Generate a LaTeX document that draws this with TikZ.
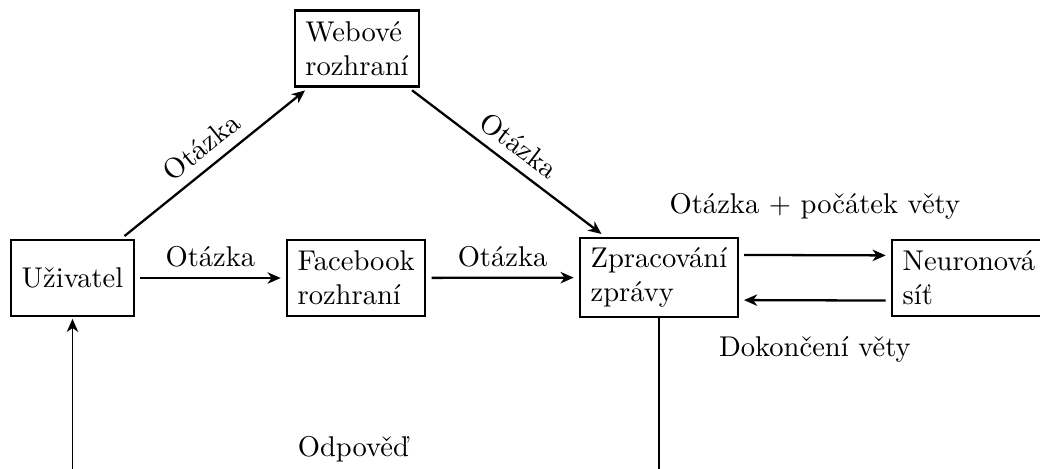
\documentclass[tikz,border=0pt]{standalone}
\usetikzlibrary{arrows.meta}
\begin{document}
\begin{tikzpicture}[x=0.35pt,y=-0.35pt,
  box/.style={draw,thick,rectangle,align=left,minimum height=26.6pt,inner xsep=3.7pt,inner ysep=3.4pt,outer sep=0pt},
  arr/.style={thick,-{Stealth[length=4.6pt,width=4pt,inset=1.4pt]},shorten <=2.2pt,shorten >=2.2pt},
  ans/.style={semithick,-{Stealth[length=4.6pt,width=4pt,inset=1.4pt]},shorten >=1pt}]
\useasboundingbox (0,0) rectangle (1040,469);
\clip (0,0) rectangle (1040,469);
\node[box] (user) at (72.5,278) {U\v{z}ivatel};
\node[box] (web) at (357,48.5) {Webov\'e\\rozhran\'i};
\node[box,anchor=west] (fb) at (287,278) {Facebook\\rozhran\'i};
\node[box,anchor=west] (proc) at (580,277.5) {Zpracov\'an\'i\\zpr\'avy};
\node[box,anchor=west] (nn) at (892,278) {Neuronov\'a\\s\'i\v{t}};
\coordinate (low) at (0,490);
\draw[arr] (user) -- node[sloped,above] {Ot\'azka} (web);
\draw[arr] (web) -- node[sloped,above] {Ot\'azka} (proc);
\draw[arr] (user) -- node[above] {Ot\'azka} (fb);
\draw[arr] (fb) -- node[above] {Ot\'azka} (proc);
\draw[arr] ([yshift=7.9pt]proc.east) -- node[above=8.8pt] {Ot\'azka + po\v{c}\'atek v\v{e}ty} ([yshift=7.9pt]nn.west);
\draw[arr] ([yshift=-7.9pt]nn.west) -- node[below=9.1pt] {Dokon\v{c}en\'i v\v{e}ty} ([yshift=-7.9pt]proc.east);
\draw[ans] (proc.south) -- (proc.south |- low) -- node[pos=0.521,above=6.2pt] {Odpov\v{e}\v{d}} (user.south |- low) -- (user.south);
\end{tikzpicture}
\end{document}
